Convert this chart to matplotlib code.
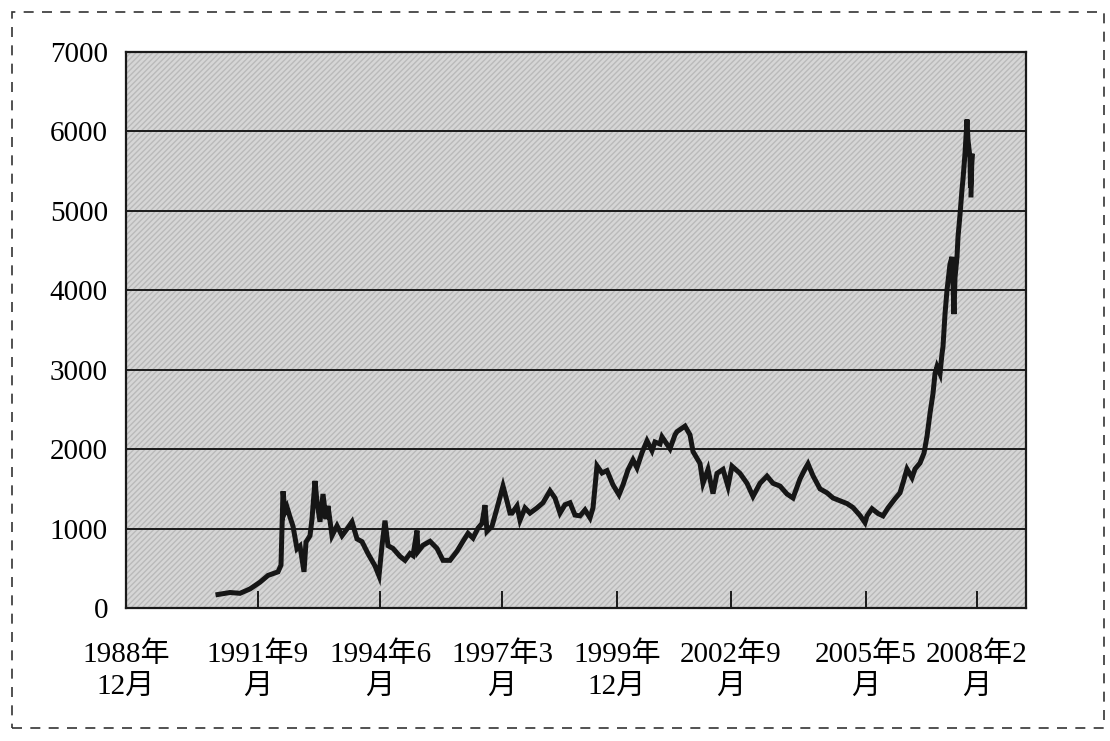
import matplotlib
matplotlib.use("Agg")
import matplotlib.pyplot as plt
from matplotlib.patches import Rectangle

# ---- data (x = category position along the axis, 0..900) ----
tick_positions = [0, 132, 254, 376, 491, 605, 740, 851]
tick_labels = ["1988年\n12月", "1991年9\n月", "1994年6\n月", "1997年3\n月",
               "1999年\n12月", "2002年9\n月", "2005年5\n月", "2008年2\n月"]
y_ticks = [0, 1000, 2000, 3000, 4000, 5000, 6000, 7000]

idx = [92, 104, 114, 124, 134, 142, 152, 155, 156, 157, 159, 161, 164, 167, 171, 174,
       178, 180, 184, 186, 189, 191, 194, 197, 200, 202, 206, 211, 216, 221, 226, 231,
       236, 242, 249, 253, 256, 259, 262, 267, 274, 279, 284, 287, 291, 292, 297, 304,
       311, 317, 324, 331, 337, 342, 347, 352, 356, 359, 361, 366, 371, 377, 381, 384,
       386, 391, 394, 399, 404, 411, 417, 424, 429, 434, 439, 444, 449, 454, 459, 464,
       467, 471, 476, 481, 487, 493, 497, 502, 507, 511, 516, 521, 526, 529, 534, 536,
       544, 549, 551, 559, 564, 567, 574, 577, 582, 587, 591, 597, 602, 606, 614, 621,
       627, 634, 641, 647, 654, 661, 667, 674, 679, 682, 687, 694, 701, 707, 714, 721,
       727, 734, 739, 741, 746, 752, 757, 762, 769, 774, 777, 781, 786, 789, 794, 798,
       801, 804, 807, 809, 811, 814, 816, 817, 819, 821, 824, 826, 827, 828, 829, 831,
       832, 834, 836, 837, 839, 841, 842, 844, 844.5, 846, 845]
index_value = [170, 195, 185, 240, 325, 410, 455, 540, 1030, 1470, 1210, 1270, 1145, 1030, 745, 780,
               455, 830, 910, 1120, 1600, 1335, 1085, 1435, 1120, 1285, 910, 1035, 910, 995, 1085, 870,
               835, 685, 530, 405, 785, 1100, 785, 750, 650, 600, 685, 660, 975, 710, 790, 840,
               750, 600, 600, 715, 840, 940, 880, 1005, 1065, 1295, 965, 1030, 1255, 1535, 1345, 1195,
               1195, 1285, 1105, 1260, 1195, 1260, 1325, 1475, 1385, 1195, 1300, 1325, 1170, 1160, 1235, 1135,
               1260, 1790, 1700, 1730, 1550, 1425, 1550, 1740, 1865, 1765, 1955, 2105, 1980, 2090, 2065, 2155,
               2005, 2180, 2220, 2290, 2180, 1970, 1820, 1570, 1745, 1440, 1695, 1745, 1530, 1785, 1695, 1570,
               1405, 1570, 1660, 1570, 1535, 1435, 1385, 1625, 1750, 1815, 1665, 1500, 1450, 1385, 1350, 1315,
               1265, 1165, 1075, 1160, 1250, 1190, 1160, 1260, 1375, 1450, 1575, 1750, 1640, 1750, 1825, 1950,
               2160, 2450, 2700, 2950, 3040, 2950, 3200, 3290, 3700, 4000, 4330, 4420, 4080, 3700, 4160, 4420,
               4670, 4950, 5270, 5400, 5720, 6150, 5890, 5670, 5290, 5720, 5200]

# ---- figure ----
W, H = 1110, 741
fig = plt.figure(figsize=(W / 100, H / 100), dpi=100)
fig.patch.set_facecolor("white")

ax = fig.add_axes([126 / W, 1 - 608 / H, 900 / W, 556 / H])
ax.set_facecolor("#d6d6d6")
ax.add_patch(Rectangle((0, 0), 1, 1, transform=ax.transAxes, facecolor="none",
                       edgecolor="#bababa", hatch="//////", lw=0, zorder=0.5))

for v in y_ticks[1:-1]:
    ax.axhline(v, color="#1a1a1a", lw=1.4, zorder=1)

ax.plot(idx, index_value, color="#161616", lw=3.6, solid_joinstyle="miter", zorder=3)

ax.set_xlim(0, 900)
ax.set_ylim(0, 7000)
ax.set_yticks(y_ticks)
ax.set_xticks(tick_positions)

fam = ["Liberation Serif", "Noto Sans CJK SC"]
ax.set_yticklabels([str(v) for v in y_ticks], family=fam, fontsize=21)
ax.set_xticklabels(tick_labels, family=fam, fontsize=21, linespacing=1.3)

ax.tick_params(axis="y", length=0, pad=13)
ax.tick_params(axis="x", direction="in", length=12, width=1.4, color="#1a1a1a", pad=24)
for s in ax.spines.values():
    s.set_color("#1a1a1a")
    s.set_linewidth(1.6)

# dashed frame around the whole figure
fig.patches.append(Rectangle((12 / W, 1 - 728 / H), (1104 - 12) / W, (728 - 12) / H,
                             transform=fig.transFigure, fill=False, edgecolor="#333333",
                             lw=1.2, linestyle=(0, (6, 5))))

fig.savefig("out.png", dpi=100)
